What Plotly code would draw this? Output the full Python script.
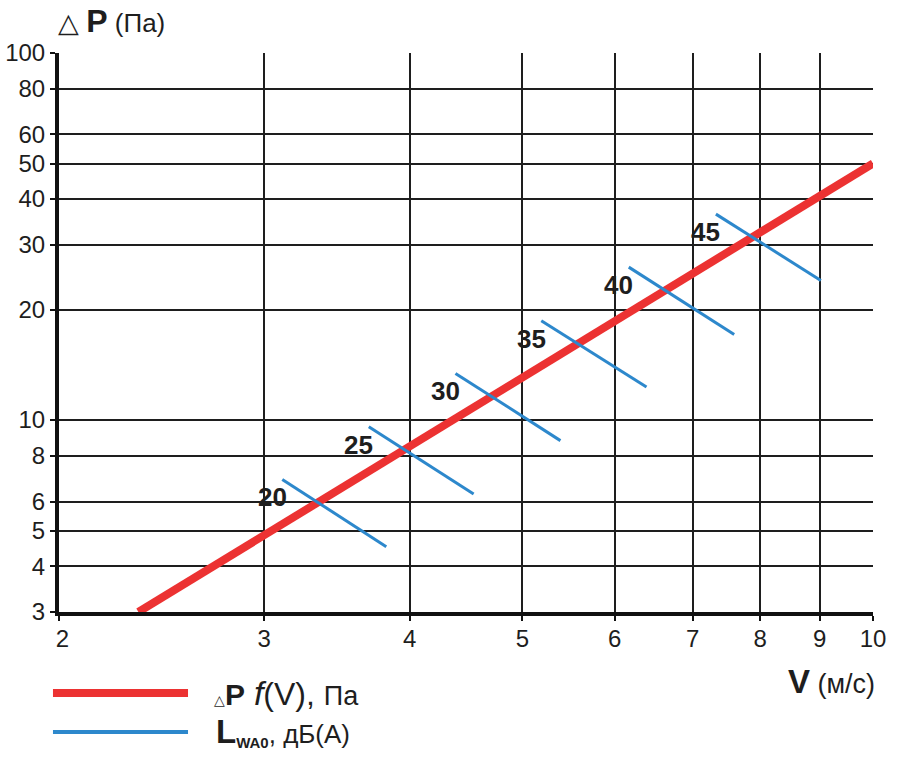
import numpy as np
import plotly.graph_objects as go

# Pressure drop line
v_red = [2.34, 10.0]
dp_red = [3.0, 50.0]

# Noise level segments L_WA0, dB(A)
noise_levels = [20, 25, 30, 35, 40, 45]
seg_v_start = [3.11, 3.69, 4.38, 5.19, 6.17, 7.33]
seg_dp_start = [6.89, 9.59, 13.4, 18.65, 26.1, 36.4]
seg_v_end = [3.82, 4.54, 5.39, 6.39, 7.60, 9.02]
seg_dp_end = [4.52, 6.29, 8.79, 12.3, 17.1, 24.0]

x_ticks = [2, 3, 4, 5, 6, 7, 8, 9, 10]
y_ticks = [3, 4, 5, 6, 8, 10, 20, 30, 40, 50, 60, 80, 100]

RED = "#ec3232"
BLUE = "#2d88cc"
INK = "#1e1e1e"
FONT = "Liberation Sans, Arial, Helvetica, sans-serif"

fig = go.Figure()

fig.add_trace(go.Scatter(
    x=v_red, y=dp_red, mode="lines",
    line=dict(color=RED, width=8), showlegend=False, hoverinfo="skip",
))

bx, by = [], []
for a, b, c, d in zip(seg_v_start, seg_dp_start, seg_v_end, seg_dp_end):
    bx += [a, c, None]
    by += [b, d, None]
fig.add_trace(go.Scatter(
    x=bx, y=by, mode="lines",
    line=dict(color=BLUE, width=3), showlegend=False, hoverinfo="skip",
))

for lvl, a, b in zip(noise_levels, seg_v_start, seg_dp_start):
    fig.add_annotation(
        x=np.log10(a), y=np.log10(b), text=f"<b>{lvl}</b>",
        showarrow=False, xanchor="center", yanchor="middle",
        xshift=-10, yshift=-18,
        font=dict(family=FONT, size=26, color=INK),
    )

axis_common = dict(
    type="log", automargin=False,
    showgrid=True, gridcolor=INK, gridwidth=2,
    showline=True, linecolor="#111", linewidth=4,
    ticks="outside", ticklen=5, tickwidth=2, tickcolor="#111",
    tickfont=dict(family=FONT, size=24, color=INK),
    zeroline=False,
)

fig.update_xaxes(
    **axis_common,
    range=[np.log10(2), np.log10(10)],
    tickvals=x_ticks, ticktext=["\u00a0" + str(x_ticks[0])] + [str(t) for t in x_ticks[1:]],
    ticklabelstandoff=-3,
)
fig.update_yaxes(
    **axis_common,
    range=[np.log10(3), np.log10(100)],
    tickvals=y_ticks, ticktext=[str(t) for t in y_ticks],
)

# Axis titles
fig.add_annotation(
    xref="paper", yref="paper", x=-0.003, y=1.057,
    xanchor="left", yanchor="middle", showarrow=False, borderpad=0,
    text='<span style="font-size:27px">△</span> <b><span style="font-size:32px">P</span></b> '
         '<span style="font-size:26px">(Па)</span>',
    font=dict(family=FONT, size=26, color=INK),
)
fig.add_annotation(
    xref="paper", yref="paper", x=1.005, y=-0.125,
    xanchor="right", yanchor="middle", showarrow=False,
    text='<b><span style="font-size:33px">V</span></b> <span style="font-size:27px">(м/с)</span>',
    font=dict(family=FONT, size=27, color=INK),
)

# Manual legend
fig.add_shape(type="line", xref="paper", yref="paper",
              x0=-0.0074, x1=0.1585, y0=-0.1449, y1=-0.1449,
              line=dict(color=RED, width=8))
fig.add_shape(type="line", xref="paper", yref="paper",
              x0=-0.0074, x1=0.1585, y0=-0.2147, y1=-0.2147,
              line=dict(color=BLUE, width=4))
fig.add_annotation(
    xref="paper", yref="paper", x=0.188, y=-0.1449,
    xanchor="left", yanchor="middle", showarrow=False,
    text='<span style="font-size:14px">△</span><b><span style="font-size:30px">P</span></b> '
         '<i><span style="font-size:34px">f</span></i><span style="font-size:32px">(V), </span>'
         '<span style="font-size:27px">Па</span>',
    font=dict(family=FONT, size=32, color=INK),
)
fig.add_annotation(
    xref="paper", yref="paper", x=0.19, y=-0.2147,
    xanchor="left", yanchor="middle", showarrow=False,
    text='<b><span style="font-size:33px">L</span><sub><span style="font-size:15px">WA0</span></sub></b>'
         '<span style="font-size:26px">, дБ(А)</span>',
    font=dict(family=FONT, size=26, color=INK),
)

fig.update_layout(
    width=900, height=770,
    margin=dict(l=59, r=27, t=53, b=158, autoexpand=False),
    paper_bgcolor="white", plot_bgcolor="white",
    showlegend=False,
    font=dict(family=FONT, color=INK),
)

fig.write_html("out.html", config={"displayModeBar": False, "staticPlot": True},
               post_script="document.body.style.margin='0px';")
